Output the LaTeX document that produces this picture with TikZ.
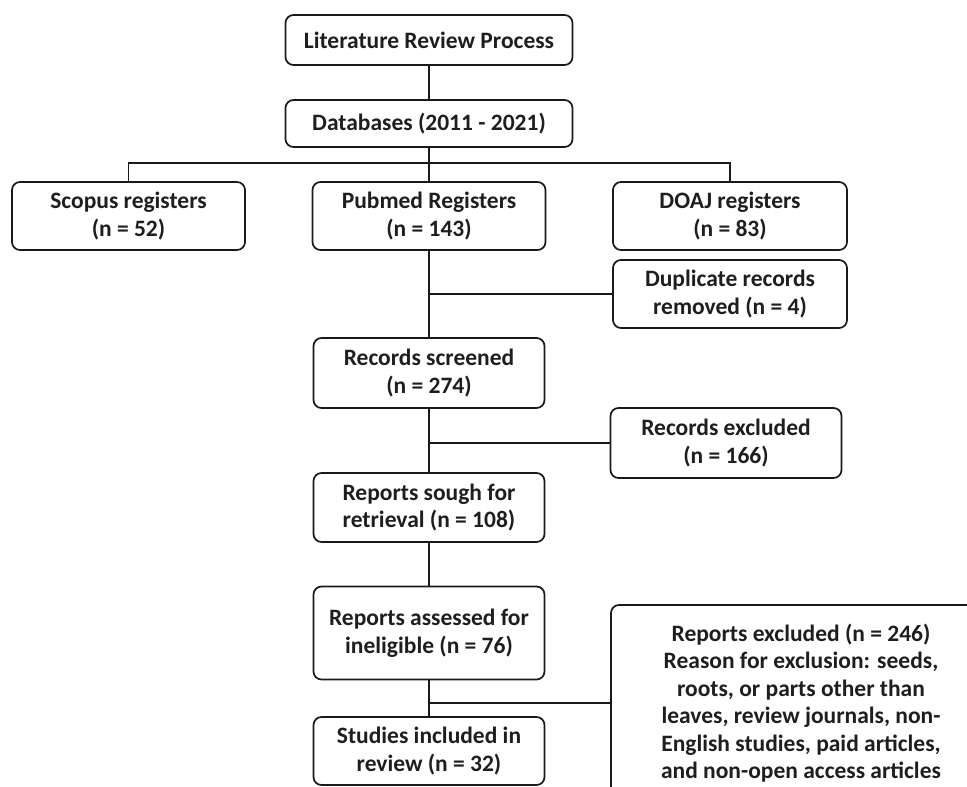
\documentclass[tikz,border=0pt]{standalone}
\usepackage{fontspec}
\setmainfont{Carlito}

\definecolor{fig-line}{RGB}{ 25, 25, 25}
\definecolor{fig-text}{RGB}{ 30, 30, 30}

\tikzset{
  box/.style={draw=fig-line, line width=1.7pt, rounded corners=8pt, align=center,
    text=fig-text, inner sep=0pt, font=\bfseries\fontsize{23.5}{27.5}\selectfont},
  link/.style={draw=fig-line, line width=1.7pt}
}

\begin{document}
\begin{tikzpicture}[x=1pt, y=-1pt]
    \useasboundingbox (0,0) rectangle (967,787);

    \node[box, minimum width=287, minimum height=50] (lit) at (429,40) {Literature Review Process};
    \node[box, minimum width=287, minimum height=47] (db) at (429,123.5) {Databases (2011 - 2021)};

    \node[box, minimum width=233, minimum height=68] (scopus) at (128.5,216) {Scopus registers\\(n = 52)};
    \node[box, minimum width=233, minimum height=68] (pubmed) at (429,216) {Pubmed Registers\\(n = 143)};
    \node[box, minimum width=234, minimum height=68] (doaj) at (730,216) {DOAJ registers\\(n = 83)};
    \node[box, minimum width=234, minimum height=68] (dup) at (730,294) {Duplicate records\\removed (n = 4)};

    \node[box, minimum width=231, minimum height=70] (screened) at (429,373) {Records screened\\(n = 274)};
    \node[box, minimum width=231, minimum height=70] (excl) at (726,443) {Records excluded\\(n = 166)};

    \node[box, minimum width=231, minimum height=69] (sough) at (429,507.5) {Reports sough for\\retrieval (n = 108)};
    \node[box, minimum width=231, minimum height=93] (assessed) at (429,633) {Reports assessed for\\ineligible (n = 76)};
    \node[box, minimum width=231, minimum height=68] (studies) at (429,751) {Studies included in\\review (n = 32)};

    \node[box, minimum width=380, minimum height=196] (rexcl) at (801,703) {Reports excluded (n = 246)\\Reason for exclusion: seeds,\\roots, or parts other than\\leaves, review journals, non-\\English studies, paid articles,\\and non-open access articles};

    \coordinate (bar) at (429,163);

    \draw[link] (lit) -- (db);
    \draw[link] (db) -- (pubmed);
    \draw[link] (scopus.north) |- (bar) -| (doaj.north);
    \draw[link] (pubmed) -- (screened);
    \draw[link] (dup.west) -- (dup.west -| pubmed.south);
    \draw[link] (screened) -- (sough);
    \draw[link] (excl.west) -- (excl.west -| screened.south);
    \draw[link] (sough) -- (assessed);
    \draw[link] (assessed) -- (studies);
    \draw[link] (rexcl.west) -- (rexcl.west -| studies.north);
  \end{tikzpicture}
\end{document}
